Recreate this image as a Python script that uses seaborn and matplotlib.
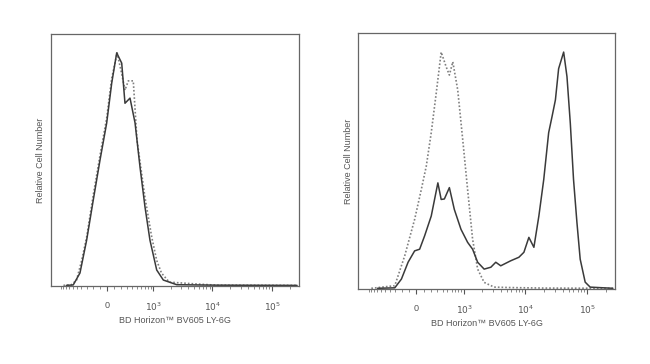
import numpy as np
import pandas as pd
import matplotlib
matplotlib.use("Agg")
import matplotlib.pyplot as plt
import seaborn as sns

# --- data (fluorescence intensity, relative count) ---
left_solid_x = [-800, -592, -432, -302, -193, -95, -4, 64, 134, 209, 262, 352,
                455, 574, 713, 879, 1157, 1505, 2540, 11900, 260000]
left_solid_y = [0.3, 0.5, 5.6, 19.7, 36.9, 54, 69.9, 87, 100, 95.6, 78.4, 80.6,
                70, 51, 34, 19.7, 6.9, 2.6, 0.6, 0.4, 0.3]

left_dot_x = [-900, -640, -508, -396, -302, -193, -95, -4, 64, 140, 209, 262,
              320, 417, 500, 713, 946, 1157, 1400, 1900, 5500, 11900, 260000]
left_dot_y = [0.3, 0.6, 2.6, 11, 21, 39, 56, 72, 89, 100, 91, 84,
              88, 88, 62.6, 38, 21, 11, 5.6, 1.7, 0.9, 0.4, 0.3]

right_solid_x = [-700, -311, -204, -109, -22, 43, 109, 204, 311, 371, 434,
                 546, 675, 886, 1150, 1394, 1690, 2160, 2780, 3340, 4020,
                 5810, 7900, 9520, 11450, 13800, 16600, 19900, 23900, 27100,
                 30700, 34600, 41700, 47200, 53400, 60200, 68300, 77100,
                 92800, 111700, 260000]
right_solid_y = [0.3, 0.5, 4.2, 11.3, 16.1, 16.8, 22.4, 30.8, 44.8, 37.8, 38,
                 42.8, 33.6, 25.2, 19.7, 16.8, 11.3, 8.4, 9.2, 11.3, 9.8,
                 11.9, 13.4, 15.5, 21.8, 17.6, 30.8, 46.2, 66, 72.8,
                 79.8, 93, 100, 89.6, 70, 46.2, 28.1, 12.6,
                 2.9, 0.8, 0.3]

right_dot_x = [-900, -311, -156, -22, 65, 132, 204, 283, 371, 472, 546, 633,
               777, 950, 1150, 1394, 1690, 2160, 3140, 6000, 20000, 260000]
right_dot_y = [0.3, 1.4, 14, 29.4, 42, 51.8, 66, 82.7, 100, 93.8, 90.3, 95.9,
               84, 63, 42, 21, 8.4, 2.8, 0.8, 0.6, 0.4, 0.3]

major_ticks = [0, 1e3, 1e4, 1e5]
major_labels = ["0", "$10^3$", "$10^4$", "$10^5$"]
minor_ticks = ([-1000 + 100 * i for i in range(10)] + [100 * i for i in range(1, 10)]
               + [1000 * i for i in range(2, 10)] + [10000 * i for i in range(2, 10)]
               + [200000])

x_label = "BD Horizon\u2122 BV605 LY-6G"
y_label = "Relative Cell Number"

sns.set_style("white")
plt.rcParams["font.family"] = ["Liberation Sans", "DejaVu Sans"]

COF = 350.0


def fwd(x):
    return np.arcsinh(np.asarray(x) / COF)


def inv(t):
    return COF * np.sinh(np.asarray(t))


def draw_panel(ax, sx, sy, dx, dy):
    solid = pd.DataFrame({"x": sx, "y": sy})
    dotted = pd.DataFrame({"x": dx, "y": dy})
    sns.lineplot(data=dotted, x="x", y="y", ax=ax, color="#808080",
                 linestyle=(0, (1, 1.2)), linewidth=1.2)
    sns.lineplot(data=solid, x="x", y="y", ax=ax, color="#3a3a3a",
                 linewidth=1.1)
    ax.set_xscale("function", functions=(fwd, inv))
    ax.set_xlim(-1500, 280000)
    ax.set_ylim(0, 108)
    ax.set_xticks(major_ticks, labels=major_labels)
    ax.set_xticks(minor_ticks, minor=True)
    ax.set_yticks([])
    ax.tick_params(axis="x", which="major", direction="out", length=3.5,
                   width=0.8, color="#555555", labelsize=6.5,
                   labelcolor="#555555", pad=7, bottom=True)
    ax.tick_params(axis="x", which="minor", direction="out", length=2,
                   width=0.6, color="#777777", bottom=True)
    ax.set_xlabel(x_label, fontsize=6.5, color="#555555", labelpad=2)
    ax.set_ylabel(y_label, fontsize=6.5, color="#555555", labelpad=4)
    for sp in ax.spines.values():
        sp.set_color("#666666")
        sp.set_linewidth(0.9)


fig = plt.figure(figsize=(6.5, 3.64), dpi=100)
ax1 = fig.add_axes([0.078, 0.214, 0.382, 0.692])
ax2 = fig.add_axes([0.551, 0.206, 0.395, 0.703])

draw_panel(ax1, left_solid_x, left_solid_y, left_dot_x, left_dot_y)
draw_panel(ax2, right_solid_x, right_solid_y, right_dot_x, right_dot_y)

fig.savefig("out.png", dpi=100)
